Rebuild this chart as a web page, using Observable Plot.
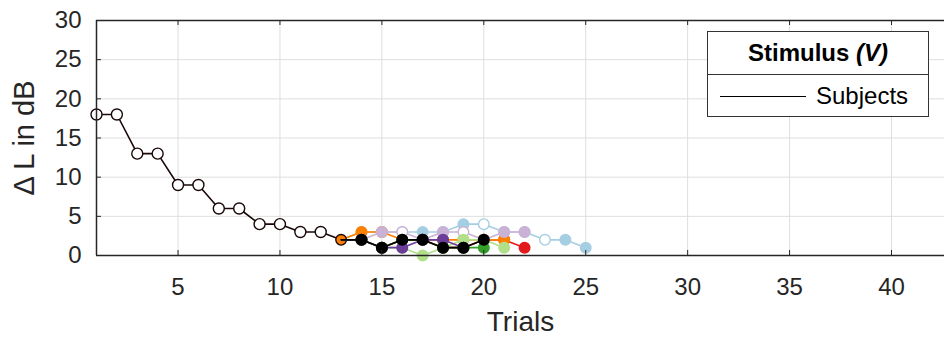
<!DOCTYPE html>
<html>
<head>
<meta charset="utf-8">
<script src="https://cdn.jsdelivr.net/npm/d3@7"></script>
<script src="https://cdn.jsdelivr.net/npm/@observablehq/plot@0.6"></script>
<style>
  html, body { margin: 0; padding: 0; background: #fff; overflow: hidden; }
  #wrap { position: relative; width: 944px; height: 339px; font-family: "Liberation Sans", Arial, sans-serif; }
  #legend { position: absolute; left: 707px; top: 31px; width: 222px; height: 86px; border: 1.5px solid #333; background: #fff; box-sizing: border-box; color: #000; }
  #legend .title { height: 42px; border-bottom: 1.5px solid #333; display: flex; align-items: center; justify-content: center; font-weight: bold; font-size: 24px; }
  #legend .row { height: 42px; display: flex; align-items: center; font-size: 24px; }
  #legend .swatch { width: 86px; height: 0; border-top: 1.5px solid #000; margin-left: 12px; margin-right: 10px; }
</style>
</head>
<body>
<div id="wrap">
  <div id="chart"></div>
  <div id="legend">
    <div class="title"><span>Stimulus <i>(V)</i></span></div>
    <div class="row"><div class="swatch"></div><span>Subjects</span></div>
  </div>
</div>
<script>
// ---- data ----
const xTicks = [5, 10, 15, 20, 25, 30, 35, 40];
const yTicks = [0, 5, 10, 15, 20, 25, 30];

const trialsInit = [1, 2, 3, 4, 5, 6, 7, 8, 9, 10, 11, 12, 13];
const levelsInit = [18, 18, 13, 13, 9, 9, 6, 6, 4, 4, 3, 3, 2];

const subjectStart = 13;
const subjectNames  = ["lightblue", "red", "orange", "lilac", "lightgreen", "green", "purple", "black"];
const subjectColors = ["#a6cee3", "#e31a1c", "#ff7f00", "#cab2d6", "#b2df8a", "#33a02c", "#6a3d9a", "#000000"];
const levelsLightBlue  = [2, 3, 3, 3, 3, 3, 4, 4, 3, 3, 2, 2, 1];
const levelsRed        = [2, 2, 1, 2, 2, 1, 1, 2, 2, 1];
const levelsOrange     = [2, 3, 3, 2, 2, 2, 2, 2, 2];
const levelsLilac      = [2, 2, 3, 3, 2, 3, 3, 2, 3, 3];
const levelsLightGreen = [2, 2, 1, 1, 0, 1, 2, 2, 1];
const levelsGreen      = [2, 2, 1, 2, 2, 1, 1, 1];
const levelsPurple     = [2, 2, 1, 1, 2, 2, 1];
const levelsBlack      = [2, 2, 1, 2, 2, 1, 1, 2];
const subjectLevels = [levelsLightBlue, levelsRed, levelsOrange, levelsLilac, levelsLightGreen, levelsGreen, levelsPurple, levelsBlack];
const openTrials = { lightblue: [20, 23], lilac: [16, 19] };

// ---- build ----
const dark = "#1a0808";
const initRows = trialsInit.map((t, i) => ({ trial: t, level: levelsInit[i] }));

const marks = [
  Plot.gridX(xTicks, { stroke: "#dedede", strokeOpacity: 1, strokeWidth: 1 }),
  Plot.gridY(yTicks, { stroke: "#dedede", strokeOpacity: 1, strokeWidth: 1 }),
  // initial common descent
  Plot.line(initRows, { x: "trial", y: "level", stroke: dark, strokeWidth: 1.6 }),
  Plot.dot(initRows.filter(d => d.trial < subjectStart), { x: "trial", y: "level", r: 5.5, fill: "white", stroke: dark, strokeWidth: 1.4 })
];

subjectNames.forEach((name, k) => {
  const color = subjectColors[k];
  const open = openTrials[name] || [];
  const rows = subjectLevels[k].map((v, i) => ({ trial: subjectStart + i, level: v, open: open.includes(subjectStart + i) }));
  marks.push(Plot.line(rows, { x: "trial", y: "level", stroke: color, strokeWidth: 1.6 }));
  const dotRows = rows.filter(d => d.trial > subjectStart || name === "orange");
  marks.push(Plot.dot(dotRows, {
    x: "trial", y: "level", r: 5.3,
    fill: d => d.open ? "white" : color,
    stroke: d => d.trial === subjectStart ? dark : color,
    strokeWidth: 1.4
  }));
});

marks.push(
  // frame (right side falls outside the picture)
  Plot.ruleY([0, 30], { stroke: "#262626", strokeWidth: 1.5 }),
  Plot.ruleX([1], { stroke: "#262626", strokeWidth: 1.5 }),
  // inward ticks
  Plot.tickX(xTicks, { x: d => d, stroke: "#262626", insetTop: 230 }),
  Plot.tickX(xTicks, { x: d => d, stroke: "#262626", insetBottom: 230 }),
  Plot.tickY(yTicks, { y: d => d, stroke: "#262626", insetRight: 843 }),
  Plot.axisX(xTicks, { tickSize: 0, tickPadding: 22, fontSize: 24, fill: "#262626", label: null }),
  Plot.axisY(yTicks, { tickSize: 0, tickPadding: 15, fontSize: 24, fill: "#262626", label: null }),
  Plot.text(["Trials"], { frameAnchor: "bottom", dy: 67, lineAnchor: "middle", fontSize: 28, fill: "#262626" }),
  Plot.text(["\u0394 L in dB"], { frameAnchor: "left", dx: -72, rotate: -90, textAnchor: "middle", lineAnchor: "middle", fontSize: 29, fill: "#262626" })
);

const chart = Plot.plot({
  width: 944,
  height: 339,
  marginLeft: 96,
  marginRight: 0,
  marginTop: 20,
  marginBottom: 84,
  x: { domain: [1, 42.6], label: null },
  y: { domain: [0, 30], label: null },
  color: { type: "identity" },
  style: { fontFamily: "'Liberation Sans', Arial, sans-serif", background: "white", overflow: "visible" },
  marks
});
document.getElementById("chart").appendChild(chart);
</script>
</body>
</html>
